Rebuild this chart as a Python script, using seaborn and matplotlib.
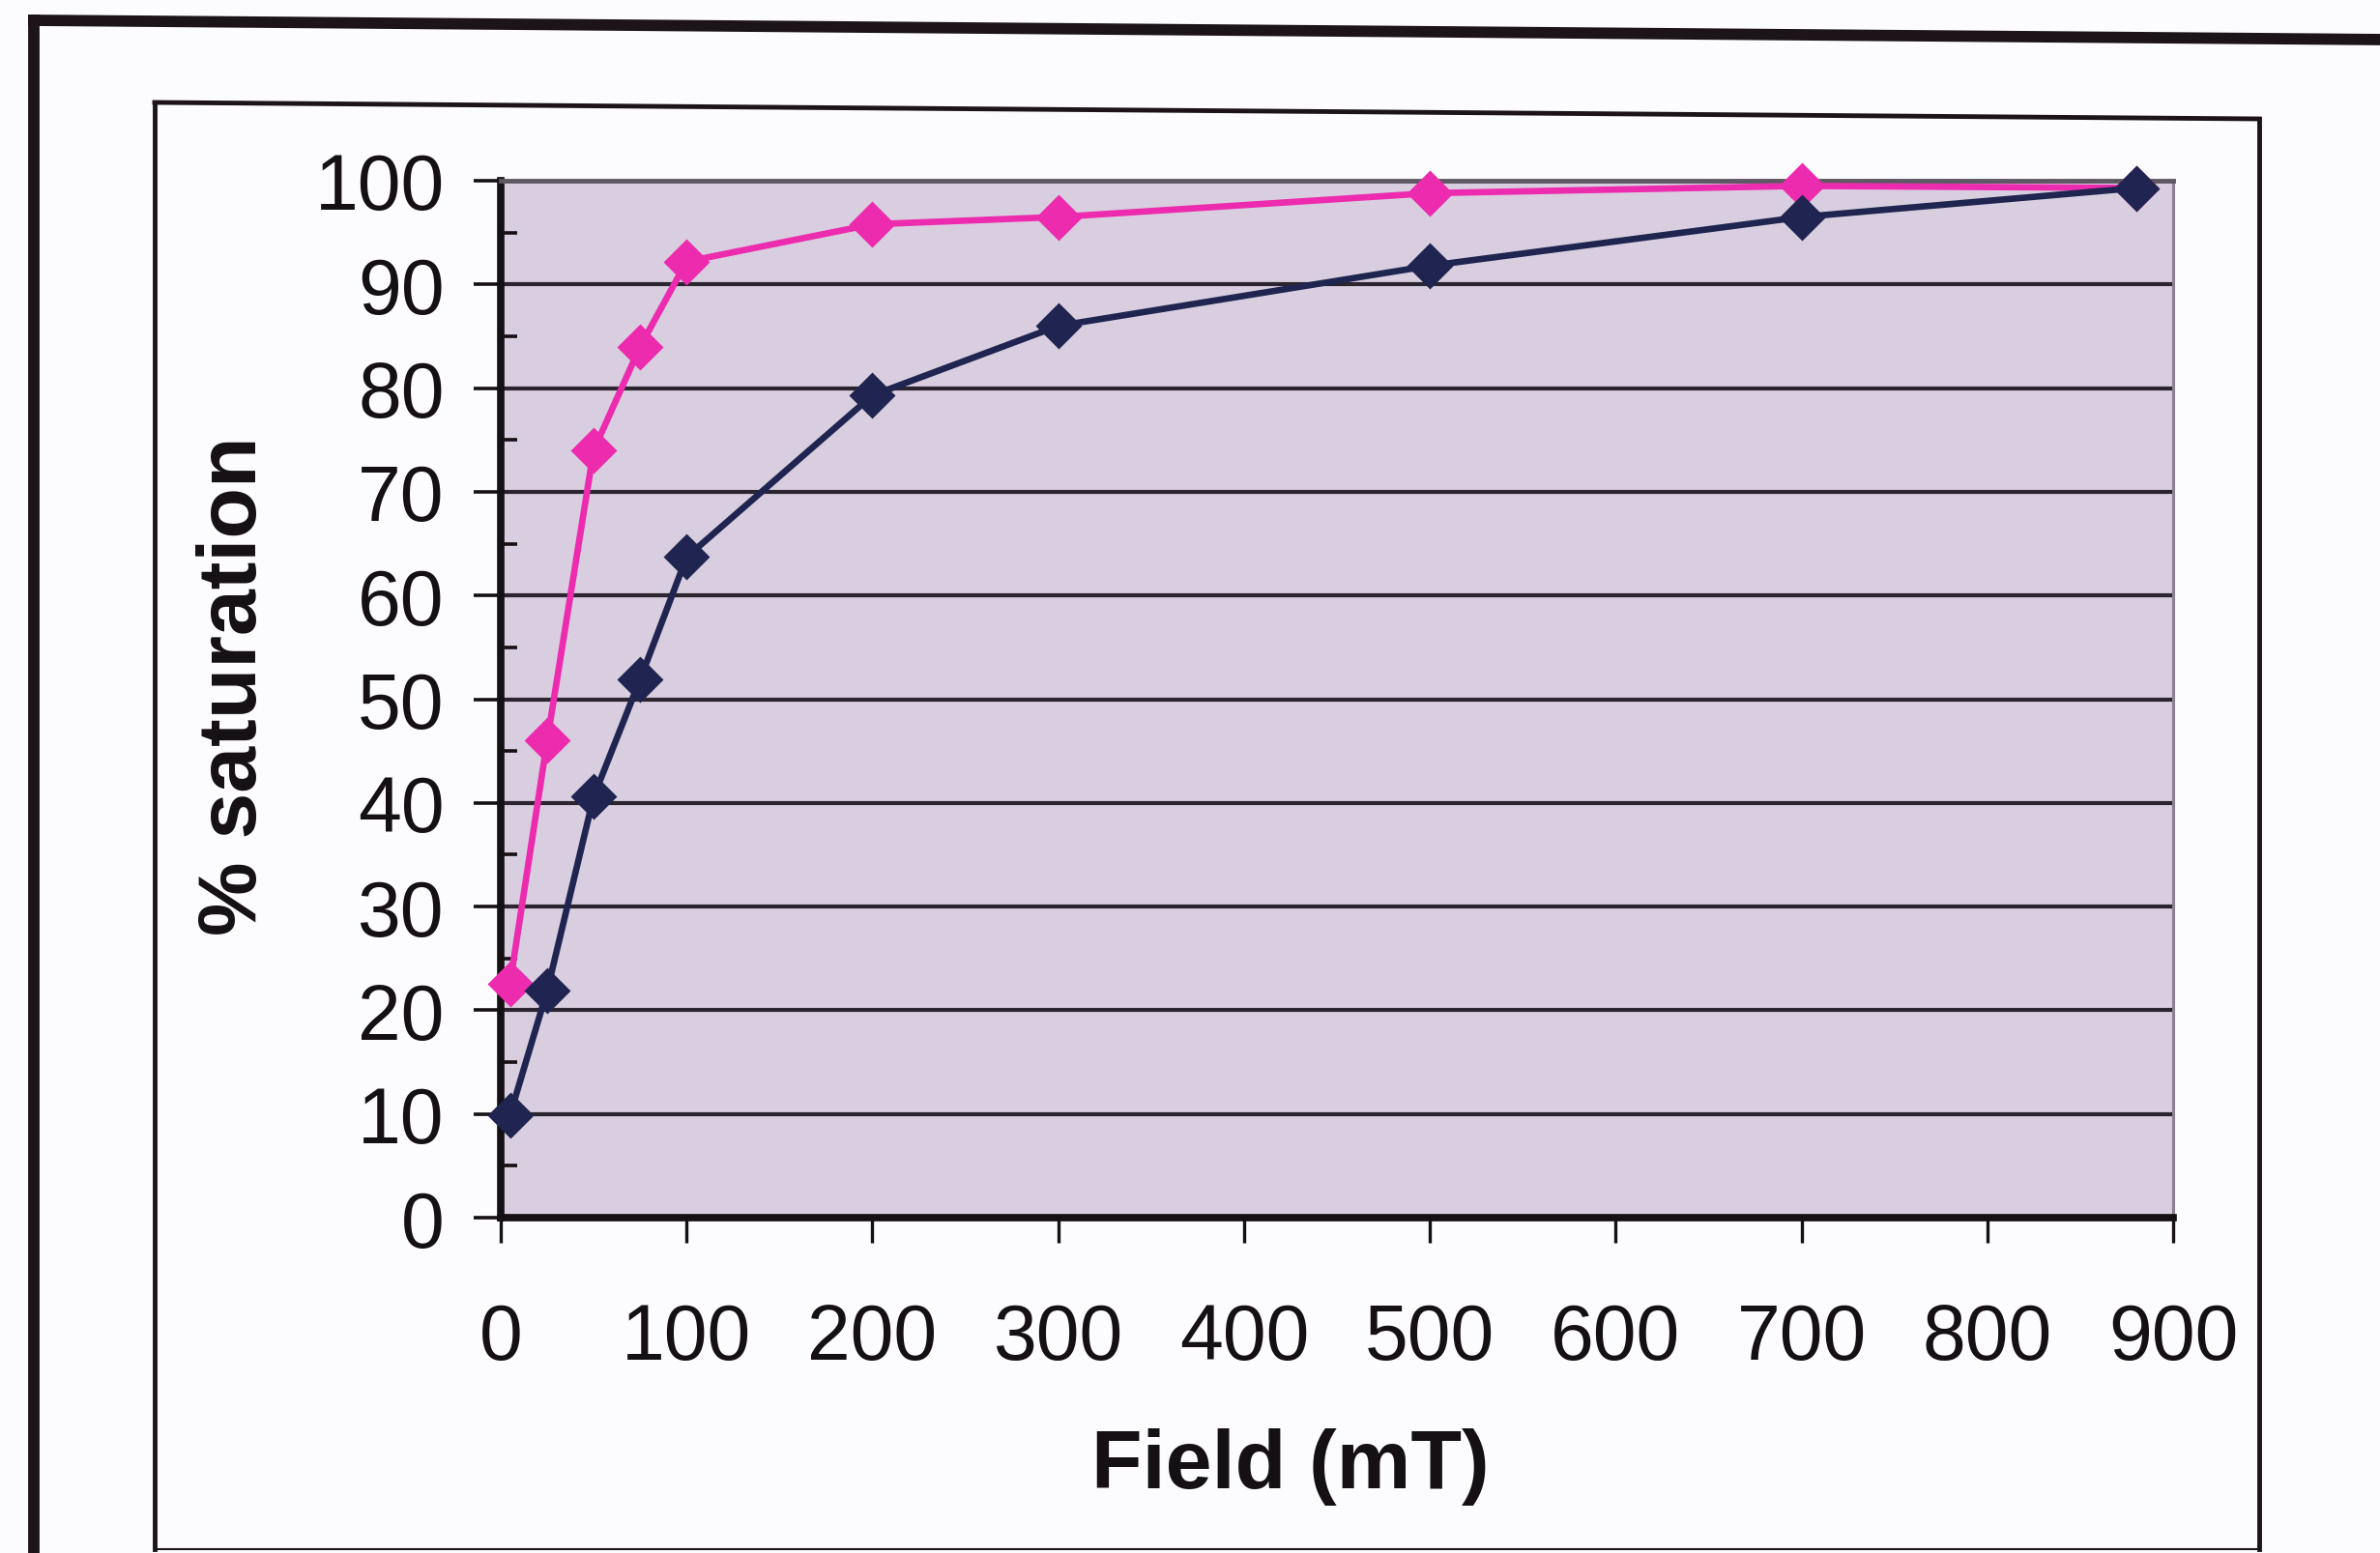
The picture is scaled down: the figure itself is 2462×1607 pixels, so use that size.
import matplotlib
matplotlib.use("Agg")
import matplotlib.pyplot as plt
from matplotlib.lines import Line2D
from matplotlib.ticker import MultipleLocator
import seaborn as sns
import pandas as pd

# Applied field steps (mT) and acquired remanence (% of saturation)
field_mT = [5, 25, 50, 75, 100, 200, 300, 500, 700, 880]
sample_pink = [22.6, 46.0, 74.0, 84.0, 92.2, 95.8, 96.5, 98.8, 99.5, 99.3]
sample_navy = [9.9, 21.9, 40.6, 51.9, 63.7, 79.3, 86.0, 91.8, 96.5, 99.3]

x_ticks = [0, 100, 200, 300, 400, 500, 600, 700, 800, 900]
y_ticks = [0, 10, 20, 30, 40, 50, 60, 70, 80, 90, 100]

PINK = "#EC2BAE"
NAVY = "#1F2550"
PANEL = "#D9CEDF"
GRID = "#2A252E"
INK = "#141014"

sns.set_style("white")
plt.rcParams["font.family"] = ["Liberation Sans", "DejaVu Sans"]
plt.rcParams["text.color"] = INK
plt.rcParams["axes.labelcolor"] = INK
plt.rcParams["xtick.color"] = INK
plt.rcParams["ytick.color"] = INK

W, H = 2462, 1608
fig = plt.figure(figsize=(W / 100, H / 100), dpi=100)
fig.patch.set_facecolor("#FCFCFE")

# plot area in pixel coordinates (left, top, right, bottom)
L, T, R, B = 518, 188, 2248, 1261
ax = fig.add_axes([L / W, 1 - B / H, (R - L) / W, (B - T) / H])
ax.set_facecolor(PANEL)

df = pd.DataFrame({
    "Field": field_mT * 2,
    "Saturation": sample_pink + sample_navy,
    "Sample": ["pink"] * len(field_mT) + ["navy"] * len(field_mT),
})

for name, col in [("pink", PINK), ("navy", NAVY)]:
    sns.lineplot(data=df[df["Sample"] == name], x="Field", y="Saturation",
                 color=col, linewidth=4.8, marker="D", markersize=22,
                 markeredgecolor=col, markeredgewidth=2, ax=ax,
                 legend=False, zorder=5, clip_on=False)

ax.set_xlim(0, 900)
ax.set_ylim(0, 100)
ax.set_xticks(x_ticks)
ax.set_yticks(y_ticks)
ax.set_xticklabels([str(v) for v in x_ticks])
ax.set_yticklabels([str(v) for v in y_ticks])
ax.yaxis.set_minor_locator(MultipleLocator(5))

ax.grid(False)
for yv in y_ticks[1:]:
    ax.axhline(yv, color=GRID, linewidth=3.0, zorder=1)

ax.tick_params(axis="y", which="major", direction="out", length=20, width=2.6,
               color=INK, labelsize=58, pad=22, left=True, labelcolor=INK)
ax.tick_params(axis="y", which="minor", direction="in", length=12, width=2.6,
               color=INK, left=True)
ax.tick_params(axis="x", which="major", direction="out", length=19, width=2.4,
               color=INK, labelsize=58, pad=44, bottom=True, labelcolor=INK)

for side in ["left", "bottom"]:
    ax.spines[side].set_visible(True)
    ax.spines[side].set_color(INK)
    ax.spines[side].set_linewidth(5.5)
ax.spines["top"].set_color("#5E5862")
ax.spines["top"].set_linewidth(3.5)
ax.spines["right"].set_color("#8A8090")
ax.spines["right"].set_linewidth(2.2)

ax.set_xlabel("Field (mT)", fontsize=62, fontweight="bold", va="center", ha="center")
ax.set_ylabel("% saturation", fontsize=62, fontweight="bold", va="center", ha="center")
ax.xaxis.set_label_coords((1335 - L) / (R - L), (B - 1518) / (B - T))
ax.yaxis.set_label_coords((243 - L) / (R - L), (B - 710) / (B - T))


def fline(x0, y0, x1, y1, lw):
    fig.add_artist(Line2D([x0 / W, x1 / W], [1 - y0 / H, 1 - y1 / H],
                          transform=fig.transFigure, color="#1c1418",
                          linewidth=lw, solid_capstyle="projecting"))


# outer frame
fline(35, 22, 2470, 42, 8.5)
fline(35, 22, 35, 1620, 8.5)
# chart-area frame
fline(160, 107, 2337, 124, 3.5)
fline(160, 107, 160, 1604, 3.5)
fline(2337, 124, 2337, 1604, 3.5)
fline(160, 1604, 2337, 1604, 1.5)

fig.savefig("out.png", dpi=100, facecolor=fig.get_facecolor())
